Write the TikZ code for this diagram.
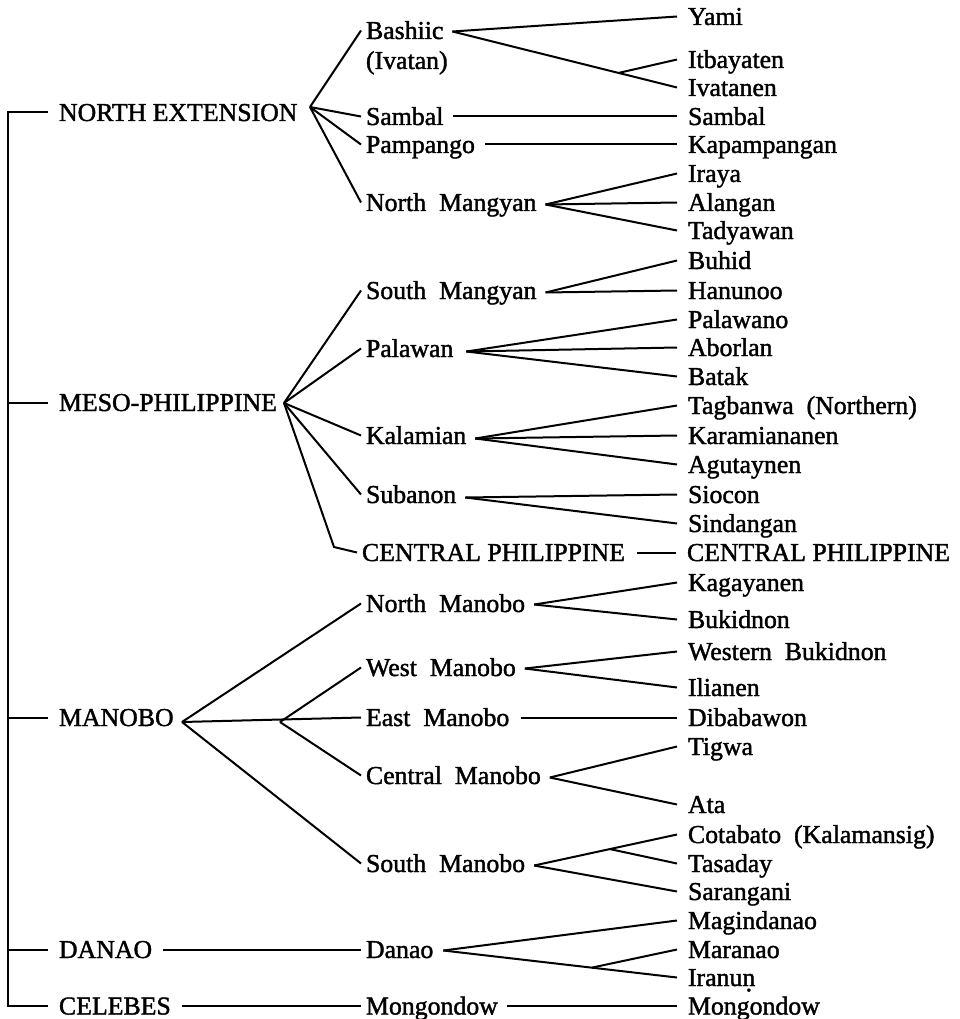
\documentclass[tikz,border=0pt]{standalone}
\usepackage{fontspec}
\setmainfont{Liberation Serif}
\newfontfamily\inkfont{Liberation Serif}[FakeBold=1.5]
\usetikzlibrary{calc}
% n with a dot below
\newcommand\undotn{{\ooalign{n\crcr\hidewidth\smash{\raisebox{-0.45ex}{.}}\hidewidth}}}
\newcommand\treefont{\inkfont\fontsize{25.8}{30}\selectfont}
\newcommand\widefont{\inkfont\fontsize{25.8}{30}\selectfont\spaceskip=0.5em plus 0.1em\relax}
\begin{document}
\begin{tikzpicture}[x=1pt,y=-1pt,
  every node/.style={inner sep=0pt, text height=17pt, text depth=0pt, anchor=base west},
  leaf/.style={font=\widefont, outer xsep=11pt, xshift=-11pt},
  group/.style={font=\widefont, outer xsep=5pt, xshift=-5pt},
  family/.style={font=\treefont, outer xsep=11pt, xshift=-11pt},
  caps/.style={font=\treefont},
  link/.style={line width=2pt},
]
\useasboundingbox (0,0) rectangle (959,1019);

% ---- families (first level)
\node[family] (northext) at (59,121) {NORTH EXTENSION};
\node[family] (meso)     at (59,411) {MESO-PHILIPPINE};
\node[family] (manobo)   at (59,726) {MANOBO};
\node[family] (danaoF)   at (59,958) {DANAO};
\node[family] (celebes)  at (59,1014.5) {CELEBES};

% ---- groups (second level)
\node[group] (bashiic)       at (366,39)  {Bashiic};
\node[group] (ivatanlbl)     at (366,69)  {(Ivatan)};
\node[group] (sambalG)       at (366,125) {Sambal};
\node[group] (pampango)      at (366,153) {Pampango};
\node[group] (northmangyan)  at (366,211) {North Mangyan};
\node[group] (southmangyan)  at (366,299) {South Mangyan};
\node[group] (palawan)       at (366,357) {Palawan};
\node[group] (kalamian)      at (366,444) {Kalamian};
\node[group] (subanon)       at (366,503) {Subanon};
\node[group,caps] (centralG) at (362,561) {CENTRAL PHILIPPINE};
\node[group] (northmanobo)   at (366,612) {North Manobo};
\node[group] (westmanobo)    at (366,676) {West Manobo};
\node[group] (eastmanobo)    at (366,726) {East Manobo};
\node[group] (centralmanobo) at (366,784) {Central Manobo};
\node[group] (southmanobo)   at (366,872) {South Manobo};
\node[group] (danaoG)        at (366,958) {Danao};
\node[group] (mongondowG)    at (366,1014.5) {Mongondow};

% ---- languages (leaves)
\node[leaf] (yami)         at (688,25)  {Yami};
\node[leaf] (itbayaten)    at (688,68)  {Itbayaten};
\node[leaf] (ivatanen)     at (688,96)  {Ivatanen};
\node[leaf] (sambalL)      at (688,125) {Sambal};
\node[leaf] (kapampangan)  at (688,153) {Kapampangan};
\node[leaf] (iraya)        at (688,182) {Iraya};
\node[leaf] (alangan)      at (688,211) {Alangan};
\node[leaf] (tadyawan)     at (688,239) {Tadyawan};
\node[leaf] (buhid)        at (688,269) {Buhid};
\node[leaf] (hanunoo)      at (688,299) {Hanunoo};
\node[leaf] (palawano)     at (688,328) {Palawano};
\node[leaf] (aborlan)      at (688,356) {Aborlan};
\node[leaf] (batak)        at (688,385) {Batak};
\node[leaf] (tagbanwa)     at (688,414) {Tagbanwa (Northern)};
\node[leaf] (karamiananen) at (688,444) {Karamiananen};
\node[leaf] (agutaynen)    at (688,473) {Agutaynen};
\node[leaf] (siocon)       at (688,503) {Siocon};
\node[leaf] (sindangan)    at (688,532) {Sindangan};
\node[leaf,caps] (centralL) at (687,561) {CENTRAL PHILIPPINE};
\node[leaf] (kagayanen)    at (688,591) {Kagayanen};
\node[leaf] (bukidnon)     at (688,628) {Bukidnon};
\node[leaf] (westernbuk)   at (688,660) {Western Bukidnon};
\node[leaf] (ilianen)      at (688,696) {Ilianen};
\node[leaf] (dibabawon)    at (688,726) {Dibabawon};
\node[leaf] (tigwa)        at (688,755) {Tigwa};
\node[leaf] (ata)          at (688,813) {Ata};
\node[leaf] (cotabato)     at (688,843) {Cotabato (Kalamansig)};
\node[leaf] (tasaday)      at (688,872) {Tasaday};
\node[leaf] (sarangani)    at (688,900) {Sarangani};
\node[leaf] (magindanao)   at (688,929) {Magindanao};
\node[leaf] (maranao)      at (688,958) {Maranao};
\node[leaf] (iranun)       at (688,986) {Iranu\undotn};
\node[leaf] (mongondowL)   at (688,1014.5) {Mongondow};

% ---- branch points
\coordinate (spine) at (8,0);
\coordinate (vNE)   at (310,107);
\coordinate (vMeso) at (284,403);
\coordinate (vCent) at (334,547);
\coordinate (vMan)  at (182,722);
\coordinate (vMan2) at (280,722);
\coordinate (vBash) at ($(bashiic.east)+(4,1)$);
\coordinate (vNM)   at ($(northmangyan.east)+(4,2)$);
\coordinate (vSM)   at ($(southmangyan.east)+(4,2)$);
\coordinate (vPal)  at ($(palawan.east)+(8,3)$);
\coordinate (vKal)  at ($(kalamian.east)+(4,3)$);
\coordinate (vSub)  at ($(subanon.east)+(4,3)$);
\coordinate (vNMan) at ($(northmanobo.east)+(4,1)$);
\coordinate (vWMan) at ($(westmanobo.east)+(4,1)$);
\coordinate (vCMan) at ($(centralmanobo.east)+(4,2)$);
\coordinate (vSMan) at ($(southmanobo.east)+(4,2)$);
\coordinate (vDan)  at ($(danaoG.east)+(5,1)$);

\begin{scope}[link]
% spine and first-level ticks
\draw (northext.west) -- (northext.west -| spine) -- (celebes.west -| spine) -- (celebes.west);
\draw (meso.west) -- (meso.west -| spine);
\draw (manobo.west) -- (manobo.west -| spine);
\draw (danaoF.west) -- (danaoF.west -| spine);

% North Extension
\draw (vNE) -- (bashiic.west);
\draw (vNE) -- (sambalG.west);
\draw (vNE) -- (pampango.west);
\draw (vNE) -- (northmangyan.west);
\draw (vBash) -- (yami.west);
\draw (vBash) -- (ivatanen.west);
\draw ($(vBash)!0.74!(ivatanen.west)$) coordinate (vItb) -- (itbayaten.west);
\draw[shorten <=5pt] (sambalG.east) -- (sambalL.west);
\draw[shorten <=5pt] (pampango.east) -- (kapampangan.west);
\draw (vNM) -- (iraya.west);
\draw (vNM) -- (alangan.west);
\draw (vNM) -- (tadyawan.west);

% Meso-Philippine
\draw (vMeso) -- (southmangyan.west);
\draw (vMeso) -- (palawan.west);
\draw (vMeso) -- (kalamian.west);
\draw (vMeso) -- (subanon.west);
\draw (vMeso) -- (vCent) -- (centralG.west);
\draw (vSM) -- (buhid.west);
\draw (vSM) -- (hanunoo.west);
\draw (vPal) -- (palawano.west);
\draw (vPal) -- (aborlan.west);
\draw (vPal) -- (batak.west);
\draw (vKal) -- (tagbanwa.west);
\draw (vKal) -- (karamiananen.west);
\draw (vKal) -- (agutaynen.west);
\draw (vSub) -- (siocon.west);
\draw (vSub) -- (sindangan.west);
\draw[shorten <=7pt] (centralG.east) -- (centralL.west);

% Manobo
\draw (vMan) -- (northmanobo.west);
\draw (vMan) -- (eastmanobo.west);
\draw (vMan) -- (southmanobo.west);
\draw (vMan2) -- (westmanobo.west);
\draw (vMan2) -- (centralmanobo.west);
\draw (vNMan) -- (kagayanen.west);
\draw (vNMan) -- (bukidnon.west);
\draw (vWMan) -- (westernbuk.west);
\draw (vWMan) -- (ilianen.west);
\draw[shorten <=7pt] (eastmanobo.east) -- (dibabawon.west);
\draw (vCMan) -- (tigwa.west);
\draw (vCMan) -- (ata.west);
\draw (vSMan) -- (cotabato.west);
\draw (vSMan) -- (sarangani.west);
\draw ($(vSMan)!0.53!(cotabato.west)$) coordinate (vTas) -- (tasaday.west);

% Danao
\draw (danaoF.east) -- (danaoG.west);
\draw (vDan) -- (magindanao.west);
\draw (vDan) -- (iranun.west);
\draw ($(vDan)!0.635!(iranun.west)$) coordinate (vMar) -- (maranao.west);

% Celebes
\draw (celebes.east) -- (mongondowG.west);
\draw[shorten <=4pt] (mongondowG.east) -- (mongondowL.west);
\end{scope}
\end{tikzpicture}
\end{document}
